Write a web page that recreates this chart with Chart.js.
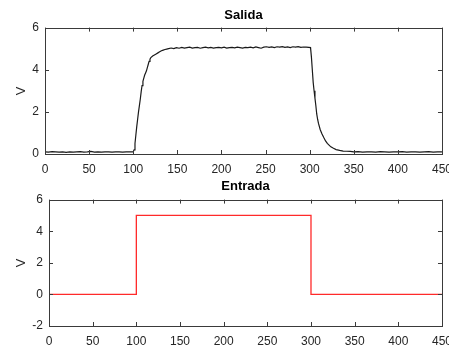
<!DOCTYPE html>
<html>
<head>
<meta charset="utf-8">
<script src="https://cdn.jsdelivr.net/npm/chart.js@4"></script>
<style>
  html, body { margin: 0; padding: 0; background: #fff; overflow: hidden; width: 449px; height: 346px; }
  .box { position: absolute; left: 0; width: 460px; }
  #top { top: 0; height: 175px; }
  #bottom { top: 175px; height: 171px; }
</style>
</head>
<body>
<div class="box" id="top"><canvas id="salidaChart"></canvas></div>
<div class="box" id="bottom"><canvas id="entradaChart"></canvas></div>
<script>
// axis ticks
const xTicks = [0, 50, 100, 150, 200, 250, 300, 350, 400, 450];
const salidaYTicks = [0, 2, 4, 6];
const entradaYTicks = [-2, 0, 2, 4, 6];

// Salida (output) samples
const salidaX = [
  0, 4, 8, 12, 16, 20, 24, 28, 32, 36, 40, 44, 48, 52, 56, 60, 64, 68, 72, 76, 80, 84, 88, 92, 96, 100,
  101, 102, 103, 104, 105, 106, 107, 108, 109, 110, 111, 112, 113, 114, 115, 116, 117, 118, 119, 120,
  122, 124, 126, 128, 130, 132, 134, 136, 138, 140, 143, 146, 149, 152, 155, 158, 161, 164, 167, 170,
  173, 176, 179, 182, 185, 188, 191, 194, 197, 200, 203, 206, 209, 212, 215, 218, 221, 224, 227, 230,
  233, 236, 239, 242, 245, 248, 251, 254, 257, 260, 263, 266, 269, 272, 275, 278, 281, 284, 287, 290,
  293, 296, 299, 301,
  302, 303, 304, 305, 306, 307, 308, 309, 310, 312, 314, 316, 318, 320, 322, 324, 327, 330, 334, 338,
  342, 346, 350, 355, 360, 365, 370, 375, 380, 385, 390, 395, 400, 405, 410, 415, 420, 425, 430, 435,
  440, 445, 450
];
const salidaY = [
  0.10, 0.09, 0.11, 0.10, 0.09, 0.10, 0.08, 0.10, 0.09, 0.10, 0.11, 0.09, 0.10, 0.12, 0.09, 0.10, 0.09, 0.10, 0.10, 0.09, 0.10, 0.10, 0.09, 0.10, 0.10, 0.10,
  0.20, 0.50, 0.90, 1.30, 1.65, 2.00, 2.30, 2.60, 2.95, 3.25, 3.45, 3.60, 3.75, 3.85, 3.95, 4.10, 4.25, 4.40, 4.50, 4.58,
  4.65, 4.70, 4.75, 4.80, 4.85, 4.90, 4.93, 4.96, 4.98, 5.00, 5.03, 5.00, 5.05, 5.02, 5.06, 5.03, 5.05, 5.07, 5.03, 5.05,
  5.06, 5.02, 5.05, 5.07, 5.04, 5.06, 5.03, 5.05, 5.06, 5.04, 5.07, 5.03, 5.05, 5.06, 5.04, 5.07, 5.05, 5.03, 5.06, 5.05,
  5.07, 5.04, 5.08, 5.05, 5.02, 5.07, 5.09, 5.06, 5.08, 5.05, 5.09, 5.07, 5.10, 5.06, 5.08, 5.05, 5.09, 5.07, 5.10, 5.06,
  5.08, 5.07, 5.06, 5.05,
  4.60, 4.00, 3.40, 3.00, 2.65, 2.30, 1.90, 1.65, 1.45, 1.15, 0.95, 0.78, 0.62, 0.50, 0.42, 0.34, 0.27, 0.21, 0.17, 0.14,
  0.13, 0.12, 0.10, 0.11, 0.09, 0.10, 0.10, 0.09, 0.11, 0.10, 0.09, 0.10, 0.10, 0.11, 0.09, 0.10, 0.10, 0.09, 0.10, 0.11,
  0.09, 0.10, 0.10
];

// Entrada (input) step
const entradaX = [0, 100, 100, 300, 300, 450];
const entradaY = [0, 0, 5, 5, 0, 0];

const axisColor = "#3a3a3a";
const textColor = "#262626";
const tickFont = { family: "'Liberation Sans', Arial, sans-serif", size: 12 };
const titleFont = { family: "'Liberation Sans', Arial, sans-serif", size: 13, weight: "bold" };

// MATLAB-like box with inward tick marks on all four sides
const boxPlugin = {
  id: "matlabBox",
  afterDatasetsDraw(chart) {
    const { ctx, chartArea: a, scales } = chart;
    ctx.save();
    ctx.strokeStyle = axisColor;
    ctx.lineWidth = 1;
    ctx.strokeRect(Math.round(a.left) + 0.5, Math.round(a.top) + 0.5,
      Math.round(a.right - a.left), Math.round(a.bottom - a.top));
    const len = 4;
    ctx.beginPath();
    scales.x.ticks.forEach(t => {
      const px = Math.round(scales.x.getPixelForValue(t.value)) + 0.5;
      ctx.moveTo(px, a.bottom); ctx.lineTo(px, a.bottom - len);
      ctx.moveTo(px, a.top); ctx.lineTo(px, a.top + len);
    });
    scales.y.ticks.forEach(t => {
      const py = Math.round(scales.y.getPixelForValue(t.value)) + 0.5;
      ctx.moveTo(a.left, py); ctx.lineTo(a.left + len, py);
      ctx.moveTo(a.right, py); ctx.lineTo(a.right - len, py);
    });
    ctx.stroke();
    ctx.restore();
  }
};

function makeChart(id, opts) {
  const points = opts.xs.map((x, i) => ({ x, y: opts.ys[i] }));
  return new Chart(document.getElementById(id), {
    type: "line",
    data: {
      datasets: [{
        data: points,
        borderColor: opts.color,
        borderWidth: opts.width,
        pointRadius: 0,
        tension: 0,
        fill: false
      }]
    },
    options: {
      responsive: true,
      maintainAspectRatio: false,
      animation: false,
      events: [],
      layout: { padding: { left: 0, right: opts.padRight, top: 0, bottom: 0 } },
      plugins: {
        legend: { display: false },
        tooltip: { enabled: false },
        title: {
          display: true,
          text: opts.title,
          color: "#000",
          font: titleFont,
          fullSize: false,
          padding: opts.titlePad
        }
      },
      scales: {
        x: {
          type: "linear",
          min: 0,
          max: 450,
          afterBuildTicks: s => { s.ticks = xTicks.map(v => ({ value: v })); },
          afterFit: s => { s.height = opts.xHeight; },
          grid: { display: false, drawTicks: false },
          border: { display: false },
          ticks: { color: textColor, font: tickFont, padding: 8, maxRotation: 0, autoSkip: false }
        },
        y: {
          type: "linear",
          min: opts.yTicks[0],
          max: opts.yTicks[opts.yTicks.length - 1],
          afterBuildTicks: s => { s.ticks = opts.yTicks.map(v => ({ value: v })); },
          afterFit: s => { s.width = opts.yWidth; },
          grid: { display: false, drawTicks: false },
          border: { display: false },
          ticks: { color: textColor, font: tickFont, padding: 6 },
          title: {
            display: true,
            text: "V",
            color: textColor,
            font: { family: "'Liberation Sans', Arial, sans-serif", size: 13 },
            padding: { top: 14, bottom: 0 }
          }
        }
      }
    },
    plugins: [boxPlugin]
  });
}

makeChart("salidaChart", {
  xs: salidaX, ys: salidaY, yTicks: salidaYTicks,
  title: "Salida", color: "#1a1a1a", width: 1.2,
  yWidth: 45, padRight: 18, xHeight: 21,
  titlePad: { top: 8, bottom: 4 }
});

makeChart("entradaChart", {
  xs: entradaX, ys: entradaY, yTicks: entradaYTicks,
  title: "Entrada", color: "#ff2a2a", width: 1.3,
  yWidth: 49, padRight: 15, xHeight: 20,
  titlePad: { top: 4, bottom: 5 }
});
</script>
</body>
</html>
